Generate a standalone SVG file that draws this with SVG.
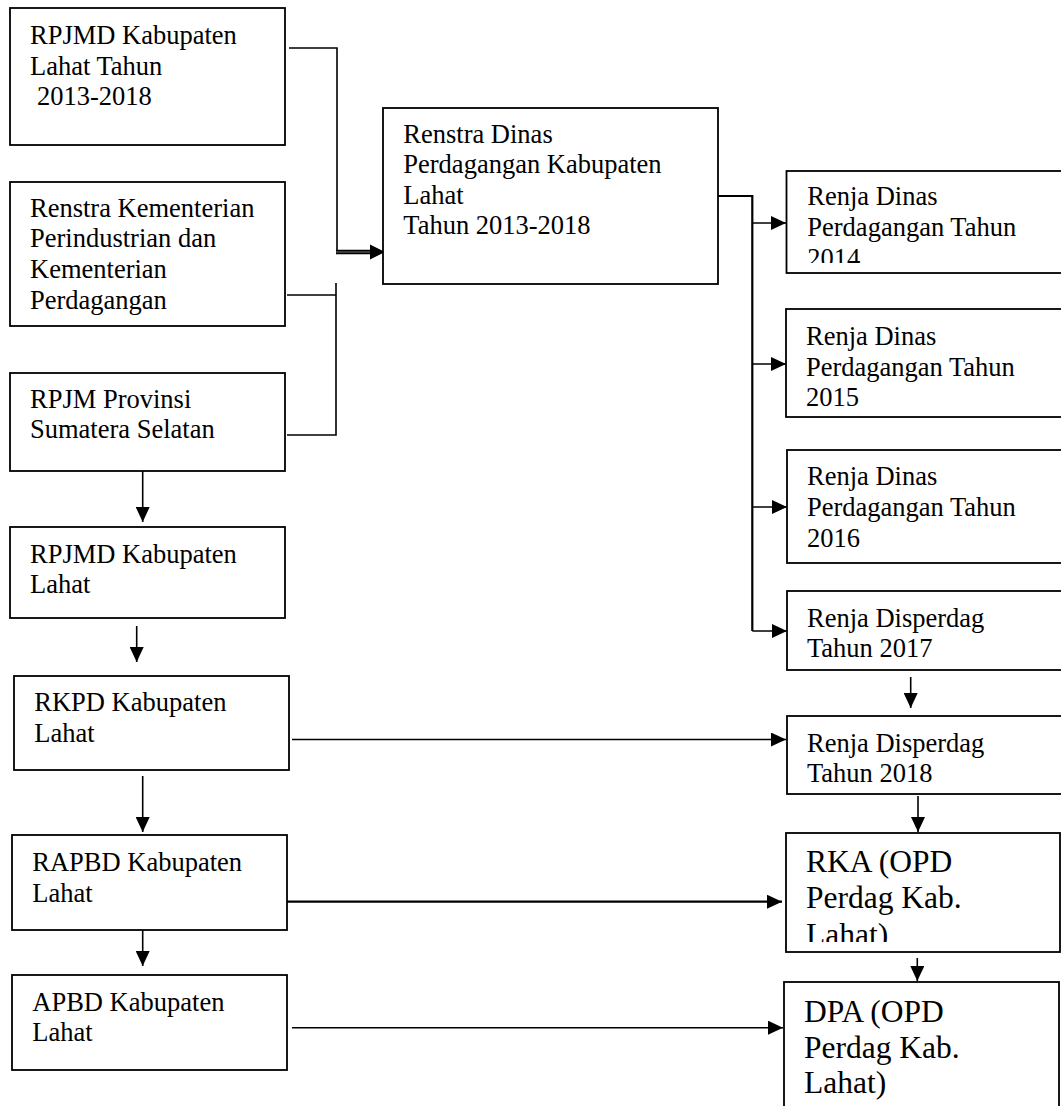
<svg xmlns="http://www.w3.org/2000/svg" width="1061" height="1106" viewBox="0 0 1061 1106">
<style>
.box{fill:#fff;stroke:#000;stroke-width:1.8}
.t{font-family:'Liberation Serif','Tinos','DejaVu Serif',serif;font-size:26.5px;fill:#000}
.tb{font-family:'Liberation Serif','Tinos','DejaVu Serif',serif;font-size:31.5px;fill:#000}
.ln{fill:none;stroke:#000;stroke-width:1.6}
.arr{fill:none;stroke:#000;stroke-width:1.6;marker-end:url(#ah)}
</style>
<defs>
<marker id="ah" markerUnits="userSpaceOnUse" markerWidth="16" markerHeight="14" refX="15" refY="7" orient="auto">
<path d="M0,0 L15,7 L0,14 Z" fill="#000"/>
</marker>
<clipPath id="c2014"><rect x="786" y="171" width="280" height="92"/></clipPath>
<clipPath id="cRKA"><rect x="786" y="833" width="274" height="109"/></clipPath>
</defs>
<rect width="1061" height="1106" fill="#fff"/>

<g id="connectors">
<polyline class="ln" points="289,48 337,48 337,253"/>
<polyline class="ln" points="287,295 336,295"/>
<polyline class="ln" points="336,283 336,435 287,435"/>
<line x1="336" y1="252" x2="372" y2="252" stroke="#000" stroke-width="4.5"/>
<line x1="336" y1="252" x2="370" y2="252" stroke="#777" stroke-width="1"/>
<path d="M370,244.5 L385,252 L370,259.5 Z" fill="#000"/>

<polyline class="ln" points="718,196 752.3,196 752.3,631" style="stroke-width:2.2"/>
<line class="arr" x1="752.3" y1="223" x2="786" y2="223"/>
<line class="arr" x1="752.3" y1="364" x2="786" y2="364"/>
<line class="arr" x1="752.3" y1="507" x2="787" y2="507"/>
<line class="arr" x1="752.3" y1="631" x2="787" y2="631"/>

<line class="arr" x1="910.7" y1="677" x2="910.7" y2="708"/>
<line class="arr" x1="918" y1="796" x2="918" y2="832"/>
<line class="arr" x1="917.3" y1="958" x2="917.3" y2="981"/>

<line class="arr" x1="142.7" y1="471" x2="142.7" y2="522"/>
<line class="arr" x1="136.7" y1="626" x2="136.7" y2="662"/>
<line class="arr" x1="142.7" y1="776" x2="142.7" y2="832"/>
<line class="arr" x1="142.7" y1="930" x2="142.7" y2="966"/>

<line class="arr" x1="292" y1="739.5" x2="786" y2="739.5"/>
<line class="arr" x1="287" y1="901.7" x2="782" y2="901.7" style="stroke-width:2.2"/>
<line class="arr" x1="292" y1="1027.7" x2="783" y2="1027.7"/>
</g>

<g id="rpjmd-2013">
<rect class="box" x="10" y="8" width="275" height="137"/>
<text class="t" x="30" y="44">RPJMD Kabupaten</text>
<text class="t" x="30" y="75">Lahat Tahun</text>
<text class="t" x="37" y="105">2013-2018</text>
</g>
<g id="renstra-kementerian">
<rect class="box" x="10" y="182" width="275" height="144"/>
<text class="t" x="30" y="216.7">Renstra Kementerian</text>
<text class="t" x="30" y="247.3">Perindustrian dan</text>
<text class="t" x="30" y="278.3">Kementerian</text>
<text class="t" x="30" y="309.3">Perdagangan</text>
</g>
<g id="rpjm-provinsi">
<rect class="box" x="10" y="373" width="275" height="98"/>
<text class="t" x="30" y="408">RPJM Provinsi</text>
<text class="t" x="30" y="438">Sumatera Selatan</text>
</g>
<g id="rpjmd-lahat">
<rect class="box" x="10" y="527" width="275" height="91"/>
<text class="t" x="30" y="563.3">RPJMD Kabupaten</text>
<text class="t" x="30" y="593.3">Lahat</text>
</g>
<g id="rkpd">
<rect class="box" x="14" y="676" width="275" height="94"/>
<text class="t" x="34.3" y="710.7">RKPD Kabupaten</text>
<text class="t" x="34.3" y="741.7">Lahat</text>
</g>
<g id="rapbd">
<rect class="box" x="12" y="835" width="275" height="95"/>
<text class="t" x="32.3" y="871">RAPBD Kabupaten</text>
<text class="t" x="32.3" y="901.7">Lahat</text>
</g>
<g id="apbd">
<rect class="box" x="12" y="975" width="275" height="95"/>
<text class="t" x="32.3" y="1010.7">APBD Kabupaten</text>
<text class="t" x="32.3" y="1040.7">Lahat</text>
</g>
<g id="renstra-dinas">
<rect class="box" x="383" y="108" width="335" height="176"/>
<text class="t" x="403.3" y="142.7">Renstra Dinas</text>
<text class="t" x="403.3" y="173.3">Perdagangan Kabupaten</text>
<text class="t" x="403.3" y="204.3">Lahat</text>
<text class="t" x="403.3" y="234.3">Tahun 2013-2018</text>
</g>
<g id="renja-2014">
<rect class="box" x="786.5" y="171" width="290" height="102"/>
<g clip-path="url(#c2014)">
<text class="t" x="807.3" y="205">Renja Dinas</text>
<text class="t" x="807.3" y="236">Perdagangan Tahun</text>
<text class="t" x="807.3" y="266.5">2014</text>
</g>
</g>
<g id="renja-2015">
<rect class="box" x="786" y="309" width="290" height="108"/>
<text class="t" x="806" y="345">Renja Dinas</text>
<text class="t" x="806" y="376">Perdagangan Tahun</text>
<text class="t" x="806" y="405.7">2015</text>
</g>
<g id="renja-2016">
<rect class="box" x="787" y="450" width="290" height="113"/>
<text class="t" x="807" y="485">Renja Dinas</text>
<text class="t" x="807" y="516">Perdagangan Tahun</text>
<text class="t" x="807" y="546.7">2016</text>
</g>
<g id="renja-2017">
<rect class="box" x="787" y="591" width="290" height="79"/>
<text class="t" x="807" y="626.7">Renja Disperdag</text>
<text class="t" x="807" y="656.7">Tahun 2017</text>
</g>
<g id="renja-2018">
<rect class="box" x="787" y="716" width="290" height="78"/>
<text class="t" x="807" y="751.7">Renja Disperdag</text>
<text class="t" x="807" y="781.7">Tahun 2018</text>
</g>
<g id="rka">
<rect class="box" x="786" y="833" width="274" height="119"/>
<g clip-path="url(#cRKA)">
<text class="tb" x="806" y="871.7">RKA (OPD</text>
<text class="tb" x="806" y="908.3">Perdag Kab.</text>
<text class="tb" x="806" y="945">Lahat)</text>
</g>
</g>
<g id="dpa">
<rect class="box" x="784" y="982" width="275" height="140"/>
<text class="tb" x="804" y="1021.7">DPA (OPD</text>
<text class="tb" x="804" y="1058.3">Perdag Kab.</text>
<text class="tb" x="804" y="1093.3">Lahat)</text>
</g>
</svg>
